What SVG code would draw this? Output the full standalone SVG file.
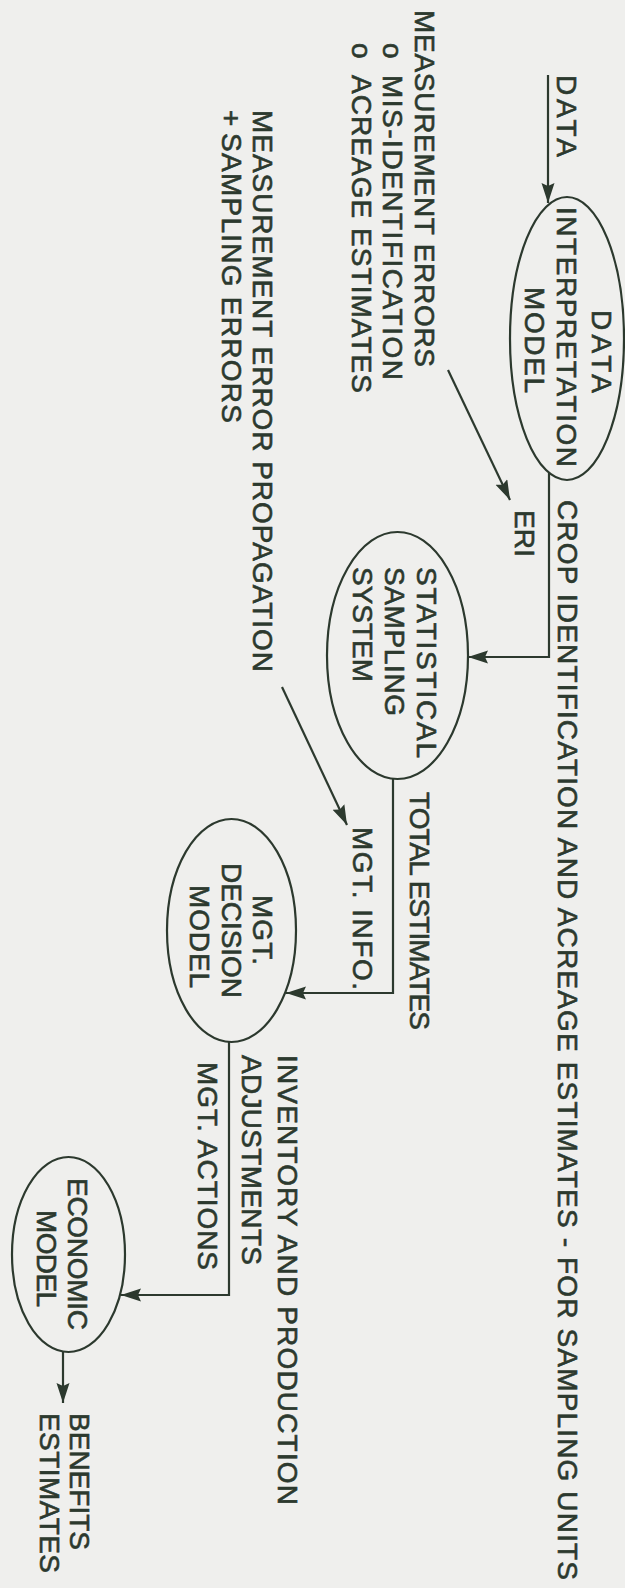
<svg xmlns="http://www.w3.org/2000/svg" width="625" height="1588" viewBox="0 0 625 1588">
  <defs>
    <style>
      .ink { fill: none; stroke: #2c392e; stroke-width: 2.2; }
      .t { font-family: "Liberation Sans", Arial, sans-serif; font-size: 28px; fill: #2c392e; stroke: #2c392e; stroke-width: 0.6; }
      .link { fill: none; stroke: #2c392e; stroke-width: 2.2; marker-end: url(#arrow); }
    </style>
    <marker id="arrow" markerUnits="userSpaceOnUse" markerWidth="22" markerHeight="14" refX="20" refY="6.5" orient="auto">
      <path d="M0,0 L20,6.5 L0,13 L3,6.5 z" fill="#2c392e"/>
    </marker>
  </defs>
  <rect x="0" y="0" width="625" height="1588" fill="#efefed"/>
  <!-- whole diagram drawn in a frame rotated 90deg clockwise -->
  <g transform="matrix(0,1,-1,0,625,0)">
    <g id="connectors">
      <path class="link" d="M75,77 L203,77"/>
      <path class="link" d="M473,76 L657,76 L657,157"/>
      <path class="link" d="M370,177 L500,115"/>
      <path class="link" d="M779,232 L993,232 L993,339"/>
      <path class="link" d="M687,343 L825,278"/>
      <path class="link" d="M1042,396 L1295,396 L1295,504"/>
      <path class="link" d="M1352,562 L1403,562"/>
    </g>

    <g id="label-data-input">
      <text class="t" x="75" y="68" textLength="82" lengthAdjust="spacing">DATA</text>
    </g>
    <g id="label-measurement-errors">
      <text class="t" x="10" y="210" textLength="357" lengthAdjust="spacing">MEASUREMENT ERRORS</text>
      <text class="t" x="43" y="242">o</text>
      <text class="t" x="75" y="242" textLength="305" lengthAdjust="spacing">MIS-IDENTIFICATION</text>
      <text class="t" x="43" y="273">o</text>
      <text class="t" x="75" y="273" textLength="318" lengthAdjust="spacing">ACREAGE ESTIMATES</text>
    </g>
    <g id="label-propagation">
      <text class="t" x="110" y="372" textLength="562" lengthAdjust="spacing">MEASUREMENT ERROR PROPAGATION</text>
      <text class="t" x="110" y="403">+</text>
      <text class="t" x="133" y="403" textLength="290" lengthAdjust="spacing">SAMPLING ERRORS</text>
    </g>
    <g id="label-eri">
      <text class="t" x="510" y="110" textLength="47" lengthAdjust="spacing">ERI</text>
    </g>
    <g id="label-crop">
      <text class="t" x="500" y="67" textLength="1080" lengthAdjust="spacing">CROP IDENTIFICATION AND ACREAGE ESTIMATES - FOR SAMPLING UNITS</text>
    </g>

    <g id="node-data-interpretation">
      <ellipse class="ink" cx="338.5" cy="58" rx="141.5" ry="57"/>
      <text class="t" x="310" y="33" textLength="83" lengthAdjust="spacing">DATA</text>
      <text class="t" x="207" y="68" textLength="260" lengthAdjust="spacing">INTERPRETATION</text>
      <text class="t" x="287" y="100" textLength="106" lengthAdjust="spacing">MODEL</text>
    </g>

    <g id="node-statistical-sampling">
      <ellipse class="ink" cx="655.5" cy="227.5" rx="123.5" ry="70.5"/>
      <text class="t" x="567" y="208" textLength="191" lengthAdjust="spacing">STATISTICAL</text>
      <text class="t" x="567" y="240" textLength="149" lengthAdjust="spacing">SAMPLING</text>
      <text class="t" x="567" y="272" textLength="115" lengthAdjust="spacing">SYSTEM</text>
    </g>

    <g id="label-total-estimates">
      <text class="t" x="792" y="215" textLength="238" lengthAdjust="spacing">TOTAL ESTIMATES</text>
      <text class="t" x="827" y="272" textLength="163" lengthAdjust="spacing">MGT. INFO.</text>
    </g>

    <g id="node-mgt-decision">
      <ellipse class="ink" cx="930.5" cy="393.5" rx="111.5" ry="64.5"/>
      <text class="t" x="895" y="372" textLength="70" lengthAdjust="spacing">MGT.</text>
      <text class="t" x="863" y="403" textLength="135" lengthAdjust="spacing">DECISION</text>
      <text class="t" x="885" y="435" textLength="103" lengthAdjust="spacing">MODEL</text>
    </g>

    <g id="label-inventory">
      <text class="t" x="1055" y="347" textLength="450" lengthAdjust="spacing">INVENTORY AND PRODUCTION</text>
      <text class="t" x="1055" y="383" textLength="210" lengthAdjust="spacing">ADJUSTMENTS</text>
      <text class="t" x="1062" y="427" textLength="208" lengthAdjust="spacing">MGT. ACTIONS</text>
    </g>

    <g id="node-economic">
      <ellipse class="ink" cx="1254.5" cy="556.5" rx="97.5" ry="56.5"/>
      <text class="t" x="1178" y="557" textLength="152" lengthAdjust="spacing">ECONOMIC</text>
      <text class="t" x="1210" y="588" textLength="97" lengthAdjust="spacing">MODEL</text>
    </g>

    <g id="label-benefits">
      <text class="t" x="1413" y="555" textLength="137" lengthAdjust="spacing">BENEFITS</text>
      <text class="t" x="1413" y="585" textLength="160" lengthAdjust="spacing">ESTIMATES</text>
    </g>
  </g>
</svg>
